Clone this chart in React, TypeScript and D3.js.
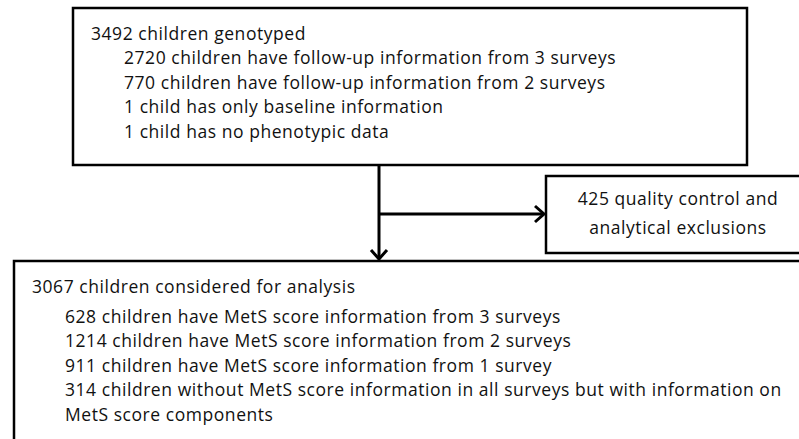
import * as d3 from "d3";
import { useEffect, useRef } from "react";

// flowchart text
const topLines = [
  "3492 children genotyped",
  "2720 children have follow-up information from 3 surveys",
  "770 children have follow-up information from 2 surveys",
  "1 child has only baseline information",
  "1 child has no phenotypic  data",
];
const topIndent = [false, true, true, true, true];

const exclusionLines = ["425 quality control and", "analytical exclusions"];

const bottomLines = [
  "3067 children considered for analysis",
  "628 children have MetS score information from 3 surveys",
  "1214 children have MetS score information from 2 surveys",
  "911 children have MetS score information from 1 survey",
  "314 children without MetS score information in all surveys but with information on",
  "MetS score components",
];
const bottomIndent = [false, true, true, true, true, true];

const W = 799;
const H = 439;
const FONT = "'Open Sans', sans-serif";

export default function App() {
  const ref = useRef<SVGSVGElement>(null);

  useEffect(() => {
    if (!ref.current) return;
    const svg = d3.select(ref.current);
    svg.selectAll("*").remove();

    const line = d3.line<[number, number]>();

    // boxes
    const boxes = [
      { x: 73, y: 8, w: 674, h: 157 },
      { x: 546, y: 176, w: 270, h: 77 },
      { x: 14, y: 261, w: 800, h: 200 },
    ];
    svg.append("g")
      .selectAll("rect")
      .data(boxes)
      .enter()
      .append("rect")
      .attr("x", (d) => d.x)
      .attr("y", (d) => d.y)
      .attr("width", (d) => d.w)
      .attr("height", (d) => d.h)
      .attr("fill", "white")
      .attr("stroke", "black")
      .attr("stroke-width", 2.5);

    // arrows
    const ax = 379;
    const ay = 214;
    const arrows = svg.append("g")
      .attr("fill", "none")
      .attr("stroke", "black")
      .attr("stroke-width", 3);
    arrows.append("path").attr("d", line([[ax, 165], [ax, 259]]));
    arrows.append("path").attr("d", line([[ax - 8, 250], [ax, 259], [ax + 8, 250]]));
    arrows.append("path").attr("d", line([[ax, ay], [544, ay]]));
    arrows.append("path").attr("d", line([[535, ay - 8], [544, ay], [535, ay + 8]]));

    // text
    const fs = 17.5;
    const ls = 0.55;
    const style = (g: any) =>
      g.attr("font-family", FONT)
        .attr("font-size", fs)
        .attr("letter-spacing", ls)
        .attr("fill", "#111")
        .style("white-space", "pre");

    style(svg.append("g"))
      .selectAll("text")
      .data(topLines)
      .enter()
      .append("text")
      .attr("x", (d: string, i: number) => (topIndent[i] ? 124 : 91))
      .attr("y", (d: string, i: number) => 40 + i * 24.4)
      .text((d: string) => d);

    style(svg.append("g"))
      .selectAll("text")
      .data(exclusionLines)
      .enter()
      .append("text")
      .attr("x", 678)
      .attr("y", (d: string, i: number) => 205 + i * 29)
      .attr("text-anchor", "middle")
      .text((d: string) => d);

    style(svg.append("g"))
      .selectAll("text")
      .data(bottomLines)
      .enter()
      .append("text")
      .attr("x", (d: string, i: number) => (bottomIndent[i] ? 65 : 32))
      .attr("y", (d: string, i: number) => (i === 0 ? 293 : 323 + (i - 1) * 24.4))
      .text((d: string) => d);
  }, []);

  return (
    <svg
      ref={ref}
      width={W}
      height={H}
      style={{ position: "absolute", left: 0, top: 0, background: "white" }}
    />
  );
}
